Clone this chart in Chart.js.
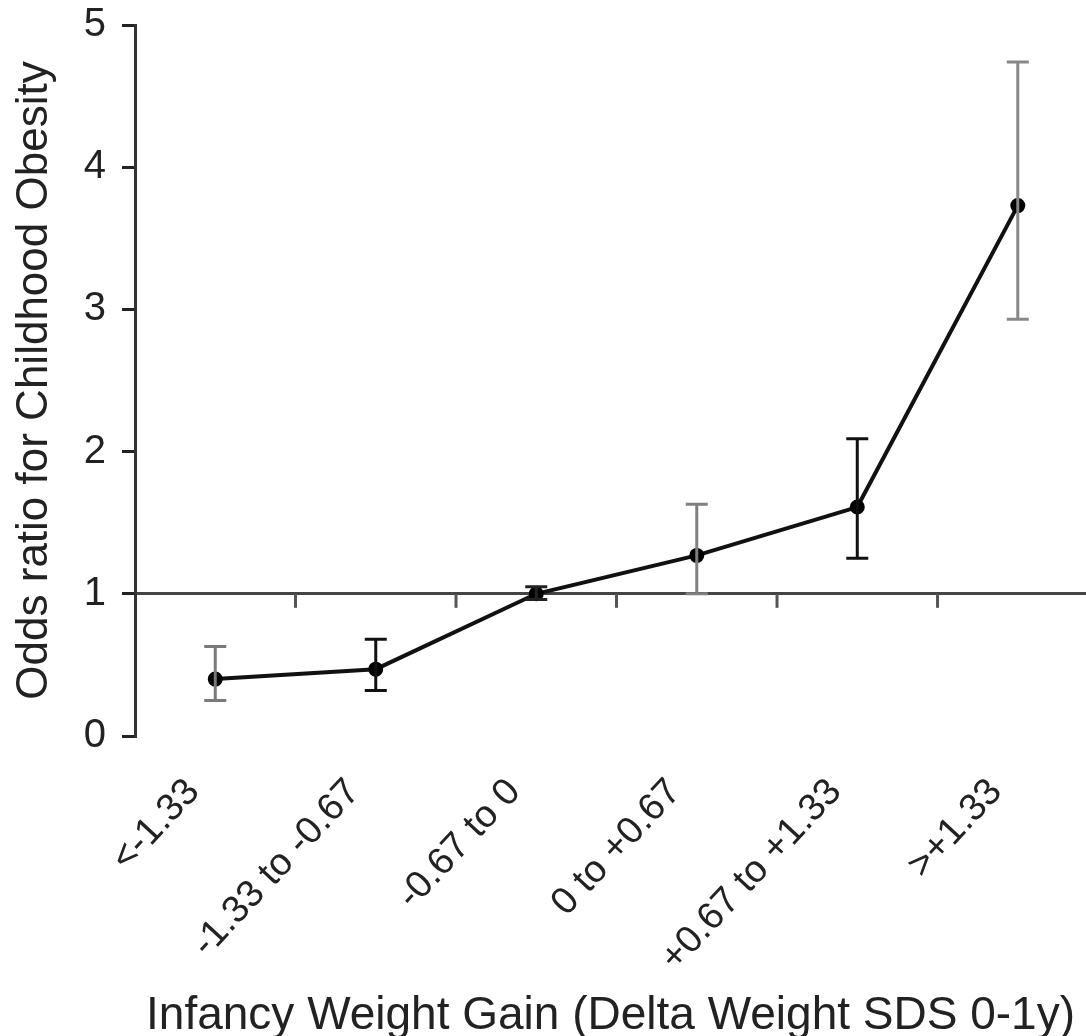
<!DOCTYPE html>
<html>
<head>
<meta charset="utf-8">
<script src="https://cdn.jsdelivr.net/npm/chart.js@4.4.1/dist/chart.umd.min.js"></script>
<style>
  html, body { margin: 0; padding: 0; background: #ffffff; overflow: hidden; }
  #wrap { width: 1086px; height: 1036px; }
</style>
</head>
<body>
<div id="wrap"><canvas id="oddsChart" width="1086" height="1036"></canvas></div>
<script>
/* ================= DATA ================= */
const categories = ["<-1.33", "-1.33 to -0.67", "-0.67 to 0", "0 to +0.67", "+0.67 to +1.33", ">+1.33"];
const oddsRatio = [0.40, 0.47, 1.00, 1.27, 1.61, 3.73];
const ciLower = [0.25, 0.32, 0.96, 1.00, 1.25, 2.93];
const ciUpper = [0.63, 0.68, 1.05, 1.63, 2.09, 4.74];
const yTicks = [0, 1, 2, 3, 4, 5];

const textColor = "#222222";
const fontFamily = "'Liberation Sans', Arial, sans-serif";

/* ================= ERROR BARS + REFERENCE TICKS ================= */
const errorBarPlugin = {
  id: "errorBars",
  afterDatasetsDraw(chart, args, opts) {
    const ctx = chart.ctx;
    const x = chart.scales.x;
    const y = chart.scales.y;
    ctx.save();

    // little marks hanging under the OR = 1 line, between categories
    ctx.strokeStyle = "#555555";
    ctx.lineWidth = 3;
    const yOne = y.getPixelForValue(1);
    for (let i = 0; i < categories.length - 1; i++) {
      const px = x.getPixelForValue(i + 0.5);
      ctx.beginPath();
      ctx.moveTo(px, yOne);
      ctx.lineTo(px, yOne + 14);
      ctx.stroke();
    }

    // confidence intervals
    ctx.lineWidth = 3;
    oddsRatio.forEach((v, i) => {
      const px = x.getPixelForValue(i);
      const top = y.getPixelForValue(ciUpper[i]);
      const bot = y.getPixelForValue(ciLower[i]);
      ctx.strokeStyle = opts.colors[i];
      ctx.beginPath();
      ctx.moveTo(px, top);
      ctx.lineTo(px, bot);
      ctx.moveTo(px - 11, top);
      ctx.lineTo(px + 11, top);
      ctx.moveTo(px - 11, bot);
      ctx.lineTo(px + 11, bot);
      ctx.stroke();
    });
    ctx.restore();
  }
};

/* ================= CHART ================= */
const ctx = document.getElementById("oddsChart").getContext("2d");

new Chart(ctx, {
  type: "line",
  data: {
    datasets: [{
      data: oddsRatio.map((v, i) => ({ x: i, y: v })),
      borderColor: "#111111",
      borderWidth: 4,
      pointBackgroundColor: "#000000",
      pointBorderColor: "#000000",
      pointRadius: 5.5,
      pointStyle: "circle",
      tension: 0,
      fill: false
    }]
  },
  options: {
    responsive: false,
    animation: false,
    layout: {
      autoPadding: false,
      padding: { top: 25, right: 0, bottom: 0, left: 0 }
    },
    plugins: {
      legend: { display: false },
      tooltip: { enabled: false },
      errorBars: {
        colors: ["#7a7a7a", "#111111", "#222222", "#808080", "#111111", "#888888"]
      }
    },
    scales: {
      x: {
        type: "linear",
        min: -0.5,
        max: 5.425,
        afterFit(scale) {
          scale.height = 300;
          scale.paddingLeft = 0;
          scale.paddingRight = 0;
        },
        afterBuildTicks(scale) {
          scale.ticks = categories.map((c, i) => ({ value: i }));
        },
        grid: { display: false, drawTicks: false },
        border: { display: false },
        ticks: {
          autoSkip: false,
          minRotation: 47,
          maxRotation: 47,
          padding: 34,
          labelOffset: -22,
          color: textColor,
          font: { family: fontFamily, size: 38 },
          callback: (value) => categories[value]
        },
        title: {
          display: true,
          text: "Infancy Weight Gain (Delta Weight SDS 0-1y)",
          color: textColor,
          padding: { top: 0, bottom: -8 },
          font: { family: fontFamily, size: 46 }
        }
      },
      y: {
        min: 0,
        max: 5,
        afterFit(scale) {
          scale.width = 135;
          scale.paddingTop = 0;
          scale.paddingBottom = 0;
        },
        afterBuildTicks(scale) {
          scale.ticks = yTicks.map(v => ({ value: v }));
        },
        grid: {
          drawOnChartArea: true,
          color: (c) => (c.tick && c.tick.value === 1 ? "#444444" : "rgba(0,0,0,0)"),
          lineWidth: 3,
          tickColor: "#222222",
          tickLength: 13,
          tickWidth: 3
        },
        border: { display: true, color: "#333333", width: 3 },
        ticks: {
          padding: 16,
          color: textColor,
          font: { family: fontFamily, size: 40 }
        },
        title: {
          display: true,
          text: "Odds ratio for Childhood Obesity",
          color: textColor,
          padding: { top: 8, bottom: 0 },
          font: { family: fontFamily, size: 44 }
        }
      }
    }
  },
  plugins: [errorBarPlugin]
});
</script>
</body>
</html>
